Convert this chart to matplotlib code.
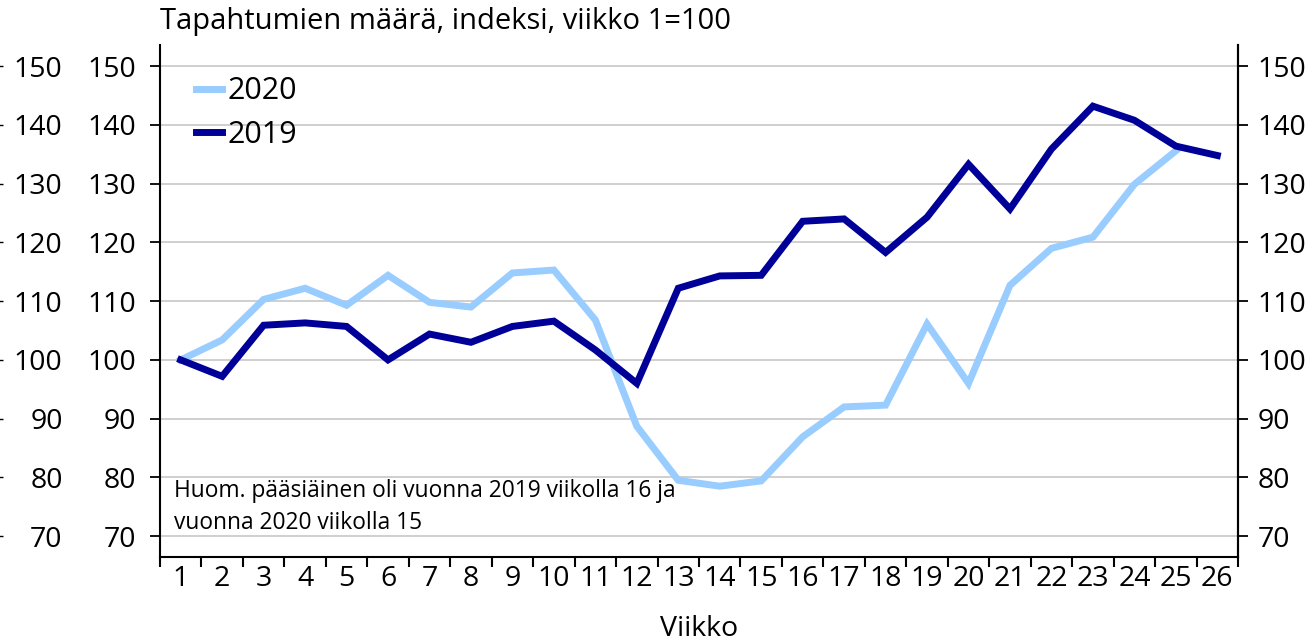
import matplotlib
matplotlib.use("Agg")
import matplotlib.pyplot as plt
import numpy as np

plt.rcParams['font.family'] = ['Open Sans', 'DejaVu Sans']

weeks = list(range(1, 27))
idx_2020 = [100, 103.4, 110.3, 112.2, 109.3, 114.4, 109.8, 109.0, 114.8, 115.3,
            106.8, 88.7, 79.5, 78.5, 79.4, 86.9, 92.0, 92.3, 106.1, 96.0,
            112.7, 119.0, 120.9, 129.9, 135.6]
idx_2019 = [100, 97.2, 105.9, 106.3, 105.7, 100.0, 104.4, 103.0, 105.7, 106.6,
            101.7, 96.0, 112.2, 114.3, 114.4, 123.6, 124.0, 118.3, 124.3, 133.3,
            125.7, 135.9, 143.2, 140.8, 136.4, 134.8]
yticks = [70, 80, 90, 100, 110, 120, 130, 140, 150]

title = "Tapahtumien määrä, indeksi, viikko 1=100"
note = "Huom. pääsiäinen oli vuonna 2019 viikolla 16 ja\nvuonna 2020 viikolla 15"

light = '#99ccff'
navy = '#000099'
fs = 20.5
ylim = (66.5, 153.6)

fig = plt.figure(figsize=(13.09, 6.44), dpi=100)
ax = fig.add_axes([0.1222, 0.1356, 0.8236, 0.7944])

ax.plot(weeks[:len(idx_2020)], idx_2020, color=light, lw=5, label='2020', solid_joinstyle='miter')
ax.plot(weeks, idx_2019, color=navy, lw=5, label='2019', solid_joinstyle='miter')

ax.set_xlim(0.5, 26.5)
ax.set_ylim(*ylim)
ax.set_yticks(yticks)
ax.yaxis.grid(True, color='#cccccc', lw=1.3)
ax.set_axisbelow(True)

# x ticks at the boundaries, labels in between
ax.set_xticks(np.arange(0.5, 27, 1))
ax.set_xticklabels([])
ax.set_xticks(weeks, minor=True)
ax.set_xticklabels([str(w) for w in weeks], minor=True, fontsize=fs)
ax.tick_params(axis='x', which='major', length=7, width=1.5, direction='out')
ax.tick_params(axis='x', which='minor', length=0, pad=6)
ax.tick_params(axis='y', length=7, width=1.3, labelsize=fs, pad=10)
ax.set_xlabel("Viikko", fontsize=fs, labelpad=16)

for s in ['left', 'right', 'bottom']:
    ax.spines[s].set_linewidth(1.5)
ax.spines['top'].set_visible(False)

# right axis
axr = ax.twinx()
axr.set_ylim(*ylim)
axr.set_yticks(yticks)
axr.tick_params(axis='y', length=7, width=1.3, labelsize=fs, pad=7)
axr.spines['right'].set_linewidth(1.5)
axr.spines['top'].set_visible(False)
axr.spines['left'].set_visible(False)
axr.spines['bottom'].set_visible(False)

# extra axis labels at the far left
axl = ax.twinx()
axl.set_ylim(*ylim)
axl.set_yticks(yticks)
axl.spines['right'].set_position(('axes', -0.1495))
for s in axl.spines.values():
    s.set_visible(False)
axl.tick_params(axis='y', length=3, width=1.0, labelsize=fs, pad=43)
for lab in axl.get_yticklabels():
    lab.set_ha('right')

ax.legend(loc='upper left', bbox_to_anchor=(0.022, 0.963), frameon=False, fontsize=22,
          handlelength=0.85, handletextpad=0.2, labelspacing=0.45, borderaxespad=0)

ax.text(0.013, 0.152, note, transform=ax.transAxes, fontsize=16.4, va='top', ha='left',
        linespacing=1.45)
fig.text(160 / 1309, 1 - 22 / 644, title, fontsize=21, va='center', ha='left')

fig.savefig("out.png", dpi=100)
